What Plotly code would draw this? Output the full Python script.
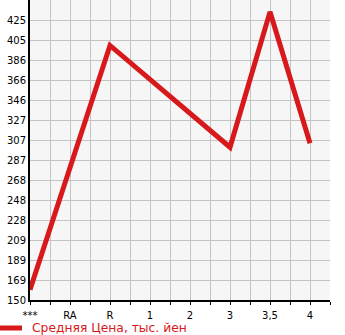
import plotly.graph_objects as go

categories = ["***", "RA", "R", "1", "2", "3", "3,5", "4"]
prices = [160, None, 400, None, None, 300, 433, 304]
series_name = "Средняя Цена, тыс. йен"
ytick_labels = ["150", "169", "189", "209", "228", "248", "268", "287",
                "307", "327", "346", "366", "386", "405", "425"]

step = 275 / 14
ytick_vals = [150 + i * step for i in range(len(ytick_labels))]
xs = list(range(len(categories)))
red = "#d7191c"

fig = go.Figure()
fig.add_trace(go.Scatter(
    x=xs, y=prices, mode="lines", name=series_name, connectgaps=True,
    line=dict(color=red, width=5),
))

# legend key drawn manually (plot area: x 30..330, y 0..300 px)
fig.add_shape(type="line", xref="paper", yref="paper",
              x0=-30 / 300, x1=-8 / 300, y0=-28 / 300, y1=-28 / 300,
              line=dict(color=red, width=5))
fig.add_annotation(text=series_name, xref="paper", yref="paper",
                   x=0, y=-28 / 300, xanchor="left", yanchor="middle",
                   showarrow=False, font=dict(size=12.3, color=red))

fig.update_layout(
    width=345, height=335,
    margin=dict(l=30, r=15, t=0, b=35),
    plot_bgcolor="#f6f6f6", paper_bgcolor="white",
    font=dict(family="DejaVu Sans", size=10, color="black"),
    showlegend=False,
)
fig.update_xaxes(
    range=[0, 7.5], tickmode="array",
    tickvals=[i * 0.5 for i in range(16)],
    ticktext=[categories[i // 2] if i % 2 == 0 else "" for i in range(16)],
    showgrid=True, gridcolor="#c4c4c4", gridwidth=1,
    showline=True, linecolor="black", linewidth=2,
    ticks="outside", ticklen=3, tickcolor="black",
    ticklabelstandoff=2,
    zeroline=False,
)
fig.update_yaxes(
    range=[150, 150 + 15 * step], tickmode="array",
    tickvals=ytick_vals, ticktext=ytick_labels,
    showgrid=True, gridcolor="#c4c4c4", gridwidth=1,
    showline=True, linecolor="black", linewidth=2,
    ticks="", zeroline=False,
)
fig.write_html("out.html")
